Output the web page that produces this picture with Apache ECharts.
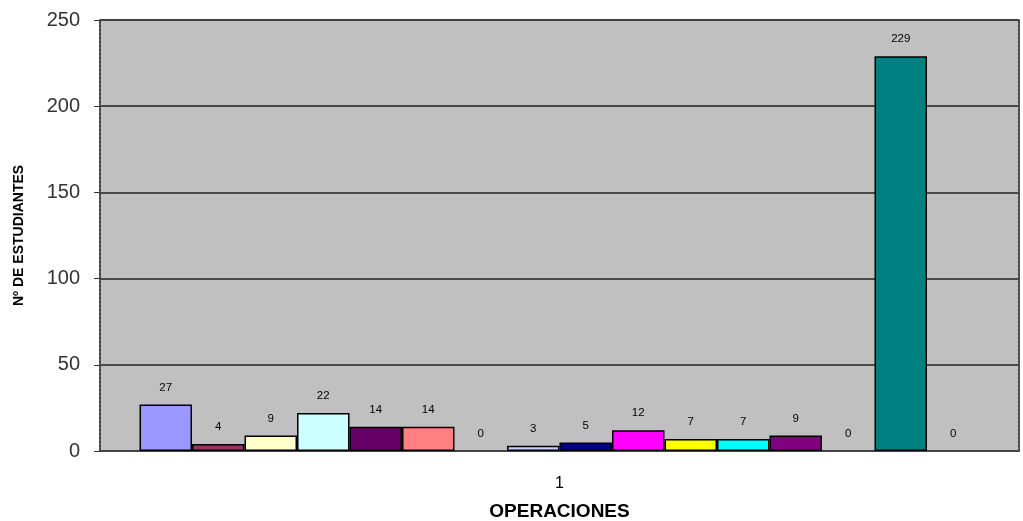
<!DOCTYPE html>
<html>
<head>
<meta charset="utf-8">
<script src="https://cdn.jsdelivr.net/npm/echarts@6/dist/echarts.min.js"></script>
<style>
  html, body { margin: 0; padding: 0; background: #fff; }
  #chart { width: 1023px; height: 521px; }
</style>
</head>
<body>
<div id="chart"></div>
<script>
// One category, sixteen response groups
const categories = ['1'];
const values = [27, 4, 9, 22, 14, 14, 0, 3, 5, 12, 7, 7, 9, 0, 229, 0];
const colors = ['#9999FF', '#993366', '#FFFFCC', '#CCFFFF', '#660066', '#FF8080',
                '#0066CC', '#CCCCFF', '#000080', '#FF00FF', '#FFFF00', '#00FFFF',
                '#800080', '#800000', '#008080', '#0000FF'];
const yTicks = [0, 50, 100, 150, 200, 250];

const font = 'Liberation Sans, Arial, sans-serif';

const series = values.map((v, i) => ({
  type: 'bar',
  name: 'S' + (i + 1),
  // empty groups get no outline so nothing is drawn on the baseline
  data: [v === 0 ? { value: v, itemStyle: { borderWidth: 0 } } : v],
  barGap: '0%',
  barCategoryGap: '8.6%',
  itemStyle: { color: colors[i], borderColor: '#000', borderWidth: 1.5 },
  label: {
    show: true, position: 'top', distance: 11,
    fontFamily: font, fontSize: 11.5, color: '#000'
  }
}));

const chart = echarts.init(document.getElementById('chart'), null, { renderer: 'canvas' });
chart.setOption({
  animation: false,
  backgroundColor: '#fff',
  grid: {
    left: 100, right: 4, top: 20, bottom: 70,
    outerBoundsMode: 'none',
    containLabel: false,
    show: true, backgroundColor: '#C0C0C0',
    borderColor: '#9a9a9a', borderWidth: 2
  },
  xAxis: [{
    type: 'category',
    data: categories,
    axisLine: { show: true, lineStyle: { color: '#444', width: 2, type: [2, 2] } },
    axisTick: { show: false },
    axisLabel: { fontFamily: font, fontSize: 16, color: '#000', margin: 25 },
    name: 'OPERACIONES',
    nameLocation: 'middle',
    nameGap: 51,
    nameTextStyle: { fontFamily: font, fontSize: 19, fontWeight: 'bold', color: '#000' }
  }, {
    type: 'category',
    position: 'top',
    data: categories,
    axisLine: { show: true, lineStyle: { color: '#444', width: 2, type: [2, 2] } },
    axisTick: { show: false },
    axisLabel: { show: false }
  }],
  yAxis: [{
    type: 'value',
    min: 0, max: 250, interval: 50,
    axisLine: { show: true, lineStyle: { color: '#444', width: 2, type: [2, 2] } },
    axisTick: { show: true, length: 6, lineStyle: { color: '#333' } },
    axisLabel: {
      fontFamily: font, fontSize: 20, color: '#333', margin: 20,
      formatter: v => yTicks.includes(v) ? String(v) : ''
    },
    splitLine: { show: true, lineStyle: { color: '#222', width: 1.5 } },
    name: 'Nº DE ESTUDIANTES',
    nameLocation: 'middle',
    nameGap: 74,
    nameTextStyle: { fontFamily: font, fontSize: 14, fontWeight: 'bold', color: '#000' }
  }, {
    type: 'value',
    position: 'right',
    min: 0, max: 250, interval: 50,
    axisLine: { show: true, lineStyle: { color: '#444', width: 2, type: [2, 2] } },
    axisTick: { show: false },
    axisLabel: { show: false },
    splitLine: { show: false }
  }],
  series: series
});
</script>
</body>
</html>
